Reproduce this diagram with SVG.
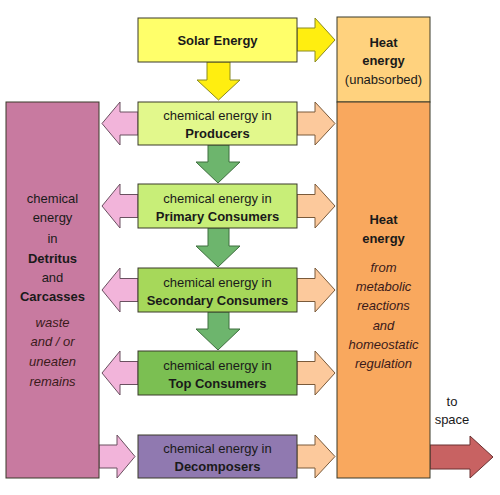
<svg xmlns="http://www.w3.org/2000/svg" width="500" height="495" viewBox="0 0 500 495">
<style>
text{font-family:"Liberation Sans",Arial,sans-serif;font-size:13px;fill:#1a1a1a;text-anchor:middle}
.b{font-weight:bold}
.i{font-style:italic;fill:#3a1a1a}
.box{stroke:#3a3a2a;stroke-width:1}
.yel{fill:#FFEE10;stroke:#8a8a20;stroke-width:1}
.grn{fill:#6DB56D;stroke:#3e6e3e;stroke-width:1}
.pnk{fill:#F2B4DA;stroke:#6a5060;stroke-width:1}
.org{fill:#FCC99C;stroke:#7a5a3a;stroke-width:1}
.red{fill:#C86262;stroke:#6a3030;stroke-width:1}
</style>
<rect width="500" height="495" fill="#ffffff"/>
<g id="connectors">
<polygon class="yel" points="297,28 315,28 315,18 335,40 315,62 315,51 297,51"/>
<polygon class="yel" points="207,62 230,62 230,80 240,80 218.5,100 197,80 207,80"/>
<polygon class="grn" points="208,145 229,145 229,162 240,162 218,183 196,162 208,162"/>
<polygon class="grn" points="208,228 229,228 229,246 240,246 218,267 196,246 208,246"/>
<polygon class="grn" points="208,312 229,312 229,329 240,329 218,350 196,329 208,329"/>
<polygon class="pnk" points="138,112 120,112 120,102 102,123.5 120,145 120,135 138,135"/>
<polygon class="pnk" points="138,194.5 120,194.5 120,184 102,206 120,228 120,217.5 138,217.5"/>
<polygon class="pnk" points="138,278.5 120,278.5 120,268 102,290 120,312 120,301.5 138,301.5"/>
<polygon class="pnk" points="138,361.5 120,361.5 120,351 102,373 120,395 120,384.5 138,384.5"/>
<polygon class="pnk" points="99,445 117,445 117,435 135,456.5 117,478 117,468 99,468"/>
<polygon class="org" points="297,112 315,112 315,102 335,123.5 315,145 315,135 297,135"/>
<polygon class="org" points="297,194.5 315,194.5 315,184 335,206 315,228 315,217.5 297,217.5"/>
<polygon class="org" points="297,278.5 315,278.5 315,268 335,290 315,312 315,301.5 297,301.5"/>
<polygon class="org" points="297,361.5 315,361.5 315,351 335,373 315,395 315,384.5 297,384.5"/>
<polygon class="org" points="297,445 315,445 315,435 335,456.5 315,478 315,468 297,468"/>
<polygon class="red" points="430,445 470,445 470,436 493,457 470,478 470,469 430,469"/>
</g>
<g id="solar">
<rect class="box" x="138" y="18" width="159" height="44" fill="#FFFF6A"/>
<text class="b" x="217.5" y="45">Solar Energy</text>
</g>
<g id="heat-unabsorbed">
<rect class="box" x="337" y="17" width="93" height="85" fill="#FFD27E" stroke="#7a5a3a"/>
<text class="b" x="383.5" y="47">Heat</text>
<text class="b" x="383.5" y="65">energy</text>
<text x="383.5" y="84">(unabsorbed)</text>
</g>
<g id="heat-main">
<rect class="box" x="337" y="102" width="93" height="376" fill="#F9A85E" stroke="#7a5a3a"/>
<text class="b" x="383.5" y="224">Heat</text>
<text class="b" x="383.5" y="243">energy</text>
<text class="i" x="383.5" y="272">from</text>
<text class="i" x="383.5" y="291">metabolic</text>
<text class="i" x="383.5" y="310">reactions</text>
<text class="i" x="383.5" y="330">and</text>
<text class="i" x="383.5" y="349">homeostatic</text>
<text class="i" x="383.5" y="368">regulation</text>
</g>
<g id="detritus">
<rect class="box" x="6" y="102" width="93" height="376" fill="#C87AA0" stroke="#6a4a5a"/>
<text x="52.5" y="203">chemical</text>
<text x="52.5" y="222">energy</text>
<text x="52.5" y="243">in</text>
<text class="b" x="52.5" y="263">Detritus</text>
<text x="52.5" y="282">and</text>
<text class="b" x="52.5" y="301">Carcasses</text>
<text class="i" x="52.5" y="327">waste</text>
<text class="i" x="52.5" y="346">and / or</text>
<text class="i" x="52.5" y="366">uneaten</text>
<text class="i" x="52.5" y="386">remains</text>
</g>
<g id="producers">
<rect class="box" x="138" y="102" width="159" height="43" fill="#E2F88C"/>
<text x="217.5" y="120">chemical energy in</text>
<text class="b" x="217.5" y="138">Producers</text>
</g>
<g id="primary">
<rect class="box" x="138" y="184" width="159" height="44" fill="#C8EE78"/>
<text x="217.5" y="202.5">chemical energy in</text>
<text class="b" x="217.5" y="220.5">Primary Consumers</text>
</g>
<g id="secondary">
<rect class="box" x="138" y="268" width="159" height="44" fill="#A6D85A"/>
<text x="217.5" y="286.5">chemical energy in</text>
<text class="b" x="217.5" y="304.5">Secondary Consumers</text>
</g>
<g id="top">
<rect class="box" x="138" y="351" width="159" height="44" fill="#7BBF52"/>
<text x="217.5" y="369.5">chemical energy in</text>
<text class="b" x="217.5" y="387.5">Top Consumers</text>
</g>
<g id="decomposers">
<rect class="box" x="138" y="435" width="159" height="43" fill="#9079B0"/>
<text x="217.5" y="453">chemical energy in</text>
<text class="b" x="217.5" y="471">Decomposers</text>
</g>
<g id="to-space-label">
<text x="452" y="406">to</text>
<text x="452" y="424">space</text>
</g>
</svg>
